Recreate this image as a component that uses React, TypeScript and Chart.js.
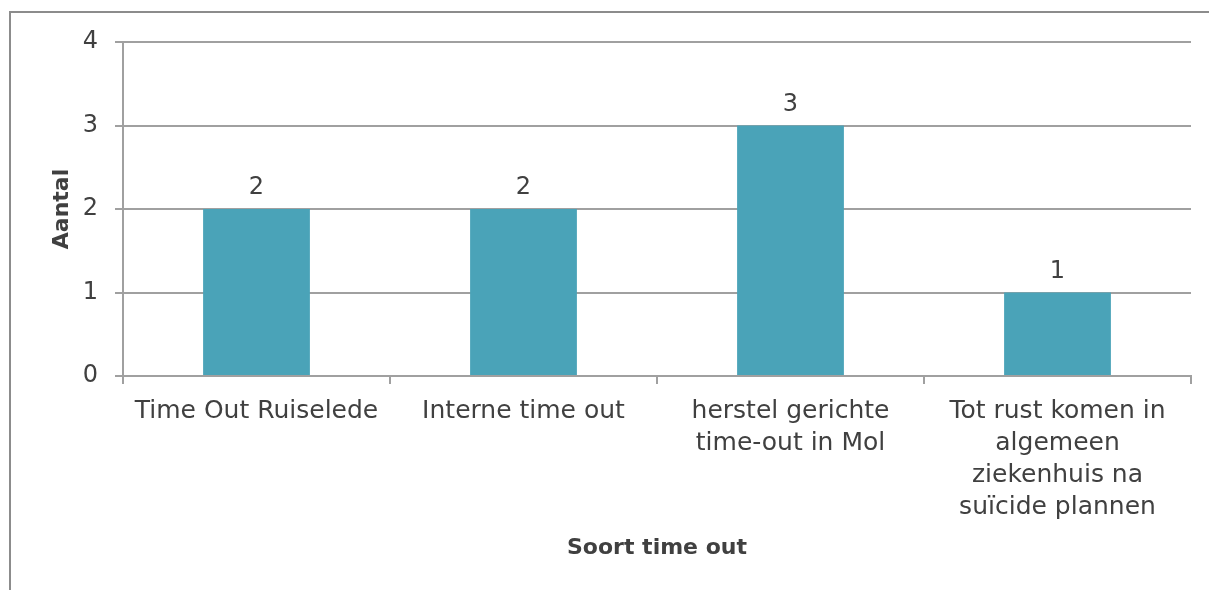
import React, { useEffect, useRef } from "react";
import { Chart, registerables } from "chart.js";

Chart.register(...registerables);

const categories: string[][] = [
  ["Time Out Ruiselede"],
  ["Interne time out"],
  ["herstel gerichte", "time-out in Mol"],
  ["Tot rust komen in", "algemeen", "ziekenhuis na", "suïcide plannen"],
];
const values: number[] = [2, 2, 3, 1];
const yTicks: number[] = [0, 1, 2, 3, 4];
const yTitle = "Aantal";
const xTitle = "Soort time out";

const FONT = "'DejaVu Sans', sans-serif";
const TEXT = "#404040";
const GRID = "#a0a0a0";
const BAR = "#4AA3B8";

const frame = {
  id: "frame",
  beforeDraw(chart: any) {
    const ctx = chart.ctx;
    ctx.save();
    ctx.fillStyle = "#ffffff";
    ctx.fillRect(0, 0, chart.width, chart.height);
    ctx.strokeStyle = "#8c8c8c";
    ctx.lineWidth = 2;
    ctx.beginPath();
    ctx.moveTo(10, chart.height);
    ctx.lineTo(10, 12);
    ctx.lineTo(chart.width, 12);
    ctx.stroke();
    ctx.restore();
  },
};

const dataLabels = {
  id: "dataLabels",
  afterDatasetsDraw(chart: any) {
    const ctx = chart.ctx;
    const meta = chart.getDatasetMeta(0);
    ctx.save();
    ctx.fillStyle = TEXT;
    ctx.font = `24px ${FONT}`;
    ctx.textAlign = "center";
    ctx.textBaseline = "alphabetic";
    meta.data.forEach((bar: any, i: number) => {
      ctx.fillText(String(values[i]), bar.x, bar.y - 15);
    });
    ctx.restore();
  },
};

export default function App() {
  const ref = useRef<HTMLCanvasElement>(null);
  useEffect(() => {
    document.body.style.margin = "0";
    const chart = new Chart(ref.current!, {
      type: "bar",
      data: {
        labels: categories,
        datasets: [
          {
            data: values,
            backgroundColor: BAR,
            categoryPercentage: 0.4,
            barPercentage: 1,
          },
        ],
      },
      options: {
        animation: false,
        responsive: false,
        layout: { padding: { top: 42, right: 18, left: 0, bottom: 0 } },
        plugins: { legend: { display: false }, tooltip: { enabled: false } },
        scales: {
          x: {
            afterFit: (s: any) => {
              s.height = 214;
            },
            grid: {
              drawOnChartArea: false,
              offset: true,
              tickLength: 8,
              color: GRID,
              lineWidth: 2,
            },
            border: { color: GRID, width: 2 },
            ticks: {
              color: TEXT,
              font: { family: FONT, size: 25, lineHeight: 1.28 },
              padding: 11,
              maxRotation: 0,
              autoSkip: false,
            },
            title: {
              display: true,
              text: xTitle,
              color: TEXT,
              font: { family: FONT, size: 22, weight: "bold" },
              padding: { bottom: 29, top: 0 },
            },
          },
          y: {
            min: 0,
            max: 4,
            afterFit: (s: any) => {
              s.width = 123;
            },
            afterBuildTicks: (s: any) => {
              s.ticks = yTicks.map((v) => ({ value: v }));
            },
            grid: { color: GRID, lineWidth: 2, tickLength: 8 },
            border: { color: GRID, width: 2 },
            ticks: {
              color: TEXT,
              font: { family: FONT, size: 24 },
              padding: 17,
            },
            title: {
              display: true,
              text: yTitle,
              color: TEXT,
              font: { family: FONT, size: 22, weight: "bold" },
              padding: { top: 49, bottom: 0 },
            },
          },
        },
      },
      plugins: [frame, dataLabels],
    });
    return () => chart.destroy();
  }, []);
  return (
    <div style={{ position: "fixed", left: 0, top: 0, width: 1209, height: 590 }}>
      <canvas ref={ref} width={1209} height={590} style={{ width: 1209, height: 590 }} />
    </div>
  );
}
